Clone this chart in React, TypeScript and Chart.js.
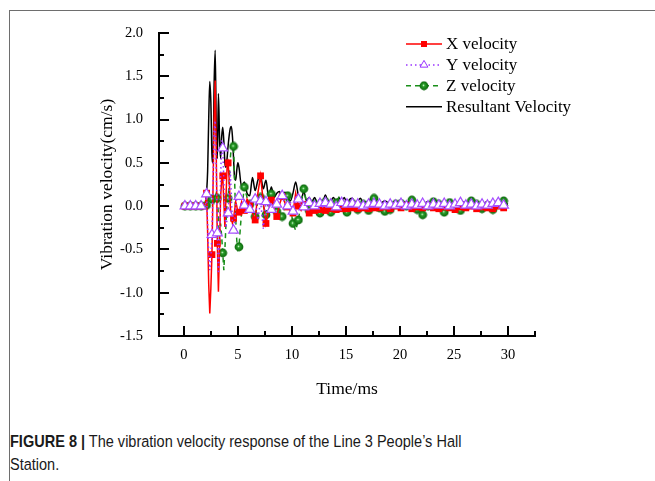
import React, { useEffect, useRef } from "react";
import { Chart, registerables } from "chart.js";

Chart.register(...registerables);

// ---------------- data ----------------
const TIME_MS = [
  0, 0.1, 0.6, 1.1, 1.6,
  2.0, 2.1, 2.2, 2.3, 2.4, 2.5, 2.6, 2.7, 2.8, 2.9,
  3.0, 3.1, 3.2, 3.3, 3.4, 3.5, 3.6, 3.7, 3.8, 3.9,
  4.0, 4.1, 4.2, 4.3, 4.4, 4.5, 4.6, 4.7, 4.8, 4.9, 5.0,
  5.1, 5.35, 5.6, 5.85, 6.1, 6.35, 6.6, 6.85,
  7.1, 7.35, 7.6, 7.85, 8.1, 8.35, 8.6, 8.85,
  9.1, 9.35, 9.6, 9.85, 10.1, 10.35, 10.6, 10.85,
  11.1, 11.35, 11.6, 11.85, 12.1, 12.35, 12.6, 12.85,
  13.1, 13.35, 13.6, 13.85, 14.1, 14.35, 14.6, 14.85,
  15.1, 15.35, 15.6, 15.85, 16.1, 16.35, 16.6, 16.85,
  17.1, 17.35, 17.6, 17.85, 18.1,
  18.6, 19.1, 19.6, 20.1, 20.6, 21.1, 21.6, 22.1,
  22.6, 23.1, 23.6, 24.1, 24.6, 25.1, 25.6, 26.1,
  26.6, 27.1, 27.6, 28.1, 28.6, 29.1, 29.6, 30.0,
];

const X_VEL = [
  0, 0, 0, 0, 0,
  0.02, 0.15, -0.3, -0.9, -1.24, -0.95, -0.56, 0.2, 1.0, 1.45,
  0.6, -0.43, -0.99, -0.5, 0.1, 0.3, 0.35, 0.05, -0.24, 0.1,
  0.45, 0.5, 0.3, 0.0, -0.15, -0.2, -0.14, -0.05, 0.05, 0.0, -0.08,
  -0.07, 0.05, -0.05, 0.08, 0.02, -0.08, -0.16, 0.15,
  0.35, 0.05, -0.2, -0.05, 0.07, -0.02, -0.12, 0.02,
  0.11, 0.04, -0.01, -0.05, -0.08, 0.15, 0.0, -0.05,
  0.02, -0.04, -0.08, -0.02, -0.05, 0.01, -0.04, 0.02,
  -0.05, 0.0, -0.03, 0.02, -0.04, 0.01, -0.03, 0.02,
  -0.03, 0.01, -0.02, 0.02, -0.03, 0.0, -0.02, 0.01,
  -0.03, 0.01, -0.02, 0.01, -0.02,
  -0.01, -0.03, 0.0, -0.02, 0.01, -0.03, -0.01, -0.02,
  0.0, -0.02, -0.03, -0.01, -0.02, -0.04, -0.01, -0.02,
  0.0, -0.03, -0.01, -0.02, -0.03, 0.0, -0.02, -0.01,
];

const Y_VEL = [
  0, 0, 0, 0, 0,
  0.01, 0.14, -0.2, -0.55, -0.74, -0.6, -0.33, 0.3, 0.85, 0.99,
  0.4, -0.31, -0.78, -0.4, 0.3, 0.76, 0.67, 0.3, -0.1, -0.25,
  -0.15, -0.08, 0.2, 0.4, 0.1, -0.2, -0.28, -0.2, 0.0, 0.1, 0.12,
  0.11, 0.0, 0.01, -0.05, -0.04, 0.05, 0.08, -0.16,
  0.06, -0.26, 0.05, 0.0, -0.04, 0.05, 0.02, 0.08,
  0.12, 0.02, 0.0, 0.05, -0.06, 0.1, 0.08, 0.0,
  -0.01, 0.02, 0.04, -0.02, 0.0, 0.02, 0.03, -0.01,
  0.04, 0.0, 0.02, 0.03, -0.01, 0.02, 0.04, 0.0,
  0.02, 0.01, 0.03, 0.0, 0.02, 0.03, 0.0, 0.01,
  0.02, 0.0, 0.03, 0.01, 0.02,
  0.0, 0.02, 0.01, 0.03, 0.0, 0.02, 0.01, 0.03,
  0.0, 0.02, 0.01, 0.03, 0.0, 0.02, 0.04, 0.01,
  0.02, 0.0, 0.02, 0.01, 0.03, 0.04, 0.01, 0.0,
];

const Z_VEL = [
  0, 0, 0, 0, 0,
  0.0, 0.01, 0.05, 0.1, 0.05, 0.06, 0.08, 0.12, 0.05, 0.1,
  0.15, 0.09, -0.1, -0.43, -0.2, -0.35, -0.54, -0.74, -0.5, -0.2,
  0.05, 0.09, 0.3, 0.55, 0.7, 0.72, 0.69, 0.3, -0.15, -0.4, -0.5,
  -0.47, -0.05, 0.22, 0.1, 0.02, -0.05, -0.12, 0.05,
  0.1, 0.0, -0.1, 0.05, 0.14, 0.02, -0.06, -0.1,
  -0.12, 0.0, 0.12, 0.0, -0.2, -0.28, -0.16, 0.05,
  0.2, 0.05, -0.05, -0.03, 0.02, -0.05, -0.08, 0.02,
  0.05, -0.02, -0.07, 0.0, 0.04, 0.1, 0.02, -0.05,
  -0.07, 0.0, 0.03, 0.02, -0.04, 0.0, 0.02, -0.02,
  -0.05, 0.05, 0.09, 0.02, -0.02,
  -0.06, -0.04, 0.02, 0.03, 0.0, 0.07, -0.04, -0.1,
  0.0, 0.05, 0.02, -0.07, 0.04, -0.02, -0.05, 0.0,
  0.06, 0.02, -0.03, 0.0, -0.04, 0.02, 0.06, 0.0,
];

const RES_VEL = [
  0, 0, 0, 0, 0,
  0.02, 0.15, 0.4, 1.0, 1.44, 1.2, 0.6, 0.5, 1.4, 1.8,
  0.9, 0.55, 1.3, 0.8, 0.55, 0.8, 0.91, 0.75, 0.5, 0.45,
  0.55, 0.7, 0.82, 0.9, 0.92, 0.8, 0.55, 0.32, 0.3, 0.42, 0.5,
  0.45, 0.22, 0.28, 0.15, 0.12, 0.33, 0.18, 0.3,
  0.35, 0.2, 0.3, 0.1, 0.22, 0.1, 0.15, 0.17,
  0.08, 0.16, 0.12, 0.06, 0.15, 0.28, 0.12, 0.07,
  0.17, 0.06, 0.1, 0.05, 0.1, 0.04, 0.08, 0.04,
  0.13, 0.05, 0.06, 0.1, 0.04, 0.1, 0.05, 0.1,
  0.03, 0.08, 0.09, 0.03, 0.06, 0.09, 0.03, 0.05,
  0.06, 0.09, 0.04, 0.05, 0.03,
  0.06, 0.03, 0.06, 0.03, 0.05, 0.02, 0.04, 0.03,
  0.05, 0.02, 0.05, 0.03, 0.06, 0.02, 0.04, 0.05,
  0.02, 0.05, 0.03, 0.05, 0.03, 0.05, 0.04, 0.02,
];

const SERIES_LABELS = ["X velocity", "Y velocity", "Z velocity", "Resultant Velocity"];
const X_TICKS = [0, 5, 10, 15, 20, 25, 30];
const X_MINOR = [2.5, 7.5, 12.5, 17.5, 22.5, 27.5, 32.5];
const Y_TICKS = [-1.5, -1.0, -0.5, 0.0, 0.5, 1.0, 1.5, 2.0];
const Y_MINOR = [-1.25, -0.75, -0.25, 0.25, 0.75, 1.25, 1.75];
const X_TITLE = "Time/ms";
const Y_TITLE = "Vibration velocity(cm/s)";

// ---------------- styling ----------------
const SERIF = '"Liberation Serif", "Times New Roman", serif';
const SANS = '"Liberation Sans", Arial, sans-serif';
const RED = "#ff0000";
const PURPLE = "#9933ff";
const GREEN = "#1a8f1a";

const isMark = (t: number) => {
  const k = (t - 0.1) * 2;
  return t > 0.05 && Math.abs(k - Math.round(k)) < 1e-6;
};

function makeBall(r: number) {
  const c = document.createElement("canvas");
  const s = Math.ceil(r * 2) + 1;
  c.width = s;
  c.height = s;
  const g = c.getContext("2d")!;
  const grd = g.createRadialGradient(s / 2 - 0.6, s / 2 - 0.6, 0, s / 2, s / 2, r);
  grd.addColorStop(0, "#e6ffe6");
  grd.addColorStop(0.3, "#2aa02a");
  grd.addColorStop(1, "#0a650a");
  g.fillStyle = grd;
  g.beginPath();
  g.arc(s / 2, s / 2, r, 0, Math.PI * 2);
  g.fill();
  return c;
}

export default function App() {
  const ref = useRef<HTMLCanvasElement | null>(null);

  useEffect(() => {
    if (!ref.current) return;
    const ball = makeBall(4.4);
    const pts = (arr: number[]) => TIME_MS.map((t, i) => ({ x: t, y: arr[i] }));
    const radiusFor = (r: number) => (ctx: any) => (isMark(TIME_MS[ctx.dataIndex]) ? r : 0);

    const tickPlugin = {
      id: "innerTicks",
      afterDraw(chart: any) {
        const { ctx, chartArea } = chart;
        const xs = chart.scales.x;
        const ys = chart.scales.y;
        ctx.save();
        ctx.strokeStyle = "#000";
        ctx.lineWidth = 2;
        ctx.beginPath();
        X_TICKS.forEach((v) => {
          const p = Math.round(xs.getPixelForValue(v));
          ctx.moveTo(p, chartArea.bottom);
          ctx.lineTo(p, chartArea.bottom - 10);
        });
        X_MINOR.forEach((v) => {
          const p = Math.round(xs.getPixelForValue(v));
          ctx.moveTo(p, chartArea.bottom);
          ctx.lineTo(p, chartArea.bottom - 5);
        });
        Y_TICKS.forEach((v) => {
          const p = Math.round(ys.getPixelForValue(v));
          ctx.moveTo(chartArea.left, p);
          ctx.lineTo(chartArea.left + 10, p);
        });
        Y_MINOR.forEach((v) => {
          const p = Math.round(ys.getPixelForValue(v));
          ctx.moveTo(chartArea.left, p);
          ctx.lineTo(chartArea.left + 5, p);
        });
        ctx.stroke();
        ctx.restore();
      },
    };

    const legendPlugin = {
      id: "lineLegend",
      afterDraw(chart: any) {
        const { ctx } = chart;
        const x0 = 406, x1 = 442, xm = 424, xt = 446;
        const y0 = 44, dy = 20.9;
        ctx.save();
        chart.data.datasets.forEach((ds: any, i: number) => {
          const y = y0 + i * dy;
          ctx.strokeStyle = ds.borderColor;
          ctx.lineWidth = ds.borderWidth;
          ctx.setLineDash(ds.borderDash || []);
          ctx.beginPath();
          ctx.moveTo(x0, y);
          ctx.lineTo(x1, y);
          ctx.stroke();
          ctx.setLineDash([]);
          if (ds.legendMarker === "rect") {
            ctx.fillStyle = RED;
            ctx.fillRect(xm - 3, y - 3, 6, 6);
          } else if (ds.legendMarker === "triangle") {
            const r = 4.5;
            ctx.fillStyle = "#fff";
            ctx.strokeStyle = PURPLE;
            ctx.lineWidth = 1;
            ctx.beginPath();
            ctx.moveTo(xm, y - r);
            ctx.lineTo(xm + 0.866 * r, y + 0.5 * r);
            ctx.lineTo(xm - 0.866 * r, y + 0.5 * r);
            ctx.closePath();
            ctx.fill();
            ctx.stroke();
          } else if (ds.legendMarker === "ball") {
            ctx.drawImage(ball, xm - ball.width / 2, y - ball.height / 2);
          }
          ctx.fillStyle = "#000";
          ctx.font = `17px ${SERIF}`;
          ctx.textAlign = "left";
          ctx.textBaseline = "middle";
          ctx.fillText(ds.label, xt, y + 1);
        });
        ctx.restore();
      },
    };

    const chart = new Chart(ref.current, {
      type: "line",
      data: {
        datasets: [
          {
            label: SERIES_LABELS[0],
            data: pts(X_VEL),
            borderColor: RED,
            backgroundColor: RED,
            borderWidth: 1.5,
            pointStyle: "rect",
            pointRadius: radiusFor(4.8),
            pointBackgroundColor: RED,
            pointBorderColor: RED,
            pointBorderWidth: 0,
            order: 1,
            legendMarker: "rect",
          } as any,
          {
            label: SERIES_LABELS[1],
            data: pts(Y_VEL),
            borderColor: PURPLE,
            backgroundColor: "#fff",
            borderWidth: 1.5,
            borderDash: [1.5, 3],
            pointStyle: "triangle",
            pointRadius: radiusFor(5.6),
            pointBackgroundColor: "#ffffff",
            pointBorderColor: "#a64dff",
            pointBorderWidth: 1.2,
            order: 0,
            legendMarker: "triangle",
          } as any,
          {
            label: SERIES_LABELS[2],
            data: pts(Z_VEL),
            borderColor: GREEN,
            backgroundColor: GREEN,
            borderWidth: 1.5,
            borderDash: [5, 4],
            pointStyle: ball,
            pointRadius: radiusFor(4.4),
            order: 2,
            legendMarker: "ball",
          } as any,
          {
            label: SERIES_LABELS[3],
            data: pts(RES_VEL),
            borderColor: "#000",
            backgroundColor: "#000",
            borderWidth: 1.5,
            cubicInterpolationMode: "monotone",
            pointRadius: 0,
            order: 3,
            legendMarker: "none",
          } as any,
        ],
      },
      options: {
        animation: false,
        responsive: false,
        events: [],
        layout: { padding: { top: 33, right: 120, left: 0, bottom: 0 } },
        plugins: { legend: { display: false }, tooltip: { enabled: false } },
        elements: { line: { tension: 0 } },
        scales: {
          x: {
            type: "linear",
            min: -2.3,
            max: 32.5,
            afterBuildTicks: (s: any) => {
              s.ticks = X_TICKS.map((v) => ({ value: v }));
            },
            afterFit: (s: any) => {
              s.height = 64;
            },
            grid: { display: false, drawTicks: false },
            border: { display: true, color: "#000", width: 2 },
            ticks: {
              padding: 10,
              color: "#000",
              autoSkip: false,
              maxRotation: 0,
              font: { family: SERIF, size: 14.5 },
              callback: (v: any) => String(v),
            },
            title: {
              display: true,
              text: X_TITLE,
              color: "#000",
              font: { family: SERIF, size: 17.5 },
              padding: { top: 0, bottom: 0 },
            },
          },
          y: {
            type: "linear",
            min: -1.5,
            max: 2.0,
            afterBuildTicks: (s: any) => {
              s.ticks = Y_TICKS.map((v) => ({ value: v }));
            },
            afterFit: (s: any) => {
              s.width = 159;
            },
            grid: { display: false, drawTicks: false },
            border: { display: true, color: "#000", width: 2 },
            ticks: {
              padding: 16,
              color: "#000",
              autoSkip: false,
              font: { family: SERIF, size: 14.5 },
              callback: (v: any) => Number(v).toFixed(1),
            },
            title: {
              display: true,
              text: Y_TITLE,
              color: "#000",
              font: { family: SERIF, size: 17.5 },
              padding: { top: 97, bottom: 0 },
            },
          },
        },
      } as any,
      plugins: [tickPlugin, legendPlugin],
    });
    return () => chart.destroy();
  }, []);

  return (
    <div style={{ position: "absolute", left: 0, top: 0, width: 655, height: 481, background: "#fff", overflow: "hidden" }}>
      <div
        style={{
          position: "absolute",
          left: 9,
          top: 10,
          width: 646,
          height: 471,
          borderTop: "1px solid #6e6e6e",
          borderLeft: "1px solid #6e6e6e",
          boxSizing: "border-box",
        }}
      />
      <canvas ref={ref} width={655} height={400} style={{ position: "absolute", left: 0, top: 0 }} />
      <div
        style={{
          position: "absolute",
          left: 10,
          top: 431,
          fontFamily: SANS,
          fontSize: 16.7,
          lineHeight: "22.5px",
          color: "#1a1a1a",
          whiteSpace: "nowrap",
          transform: "scaleX(0.87)",
          transformOrigin: "0 0",
        }}
      >
        <b>FIGURE 8 |</b> The vibration velocity response of the Line 3 People’s Hall
        <br />
        Station.
      </div>
    </div>
  );
}
